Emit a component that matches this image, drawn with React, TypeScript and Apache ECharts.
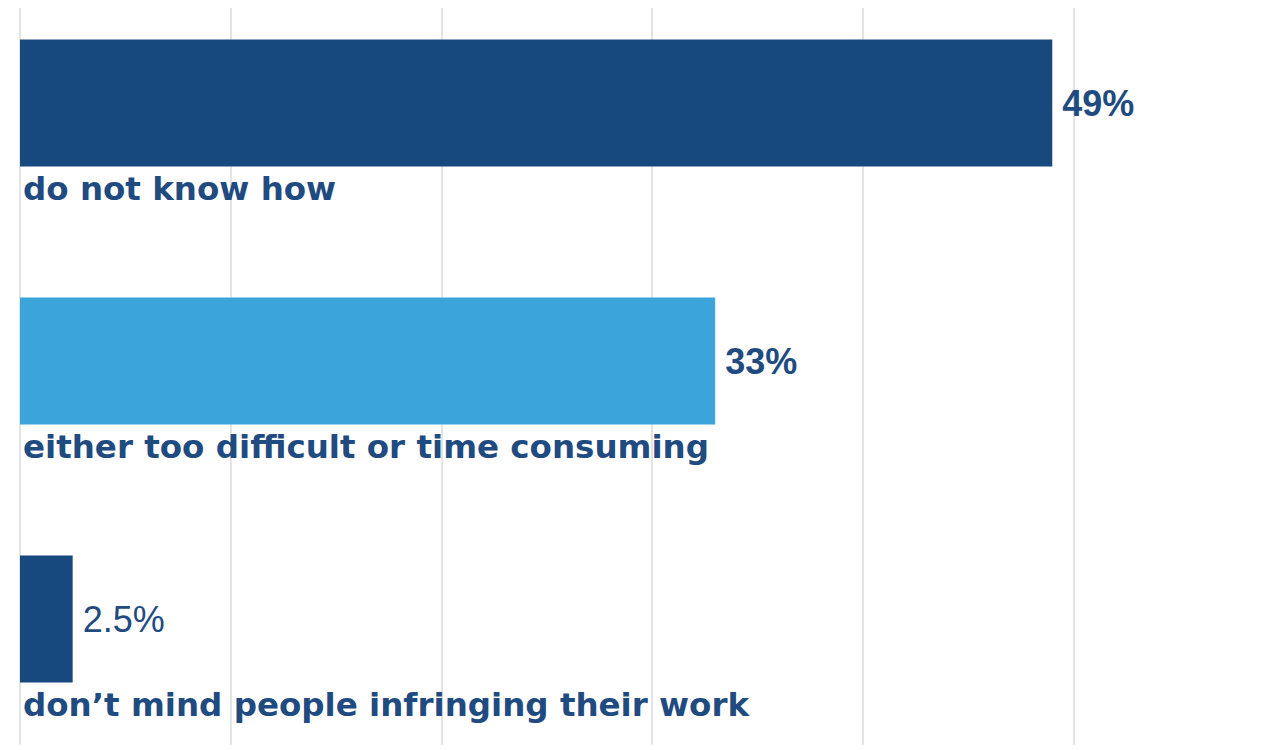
import React, { useEffect, useRef } from "react";
import * as echarts from "echarts";

const categories = [
  "do not know how",
  "either too difficult or time consuming",
  "don\u2019t mind people infringing their work",
];
const values = [49, 33, 2.5];
const valueLabels = ["49%", "33%", "2.5%"];
const barColors = ["#17497f", "#3ba4da", "#17497f"];
const axisMin = 0;
const axisMax = 60;
const axisInterval = 10;

const TEXT_COLOR = "#1f4b80";
const VALUE_FONT = "'Liberation Sans', Arial, sans-serif";
const CAT_FONT = "'DejaVu Sans', sans-serif";

export default function App() {
  const ref = useRef<HTMLDivElement>(null);
  useEffect(() => {
    if (!ref.current) return;
    const chart = echarts.init(ref.current, undefined, { renderer: "svg" });
    chart.setOption({
      animation: false,
      backgroundColor: "#ffffff",
      grid: [
        { left: 20, right: 16, top: 14, bottom: 12 },
        { left: 20, right: 16, top: 48, bottom: 15 },
      ],
      xAxis: [
        {
          gridIndex: 0,
          type: "value",
          min: axisMin,
          max: axisMax,
          interval: axisInterval,
          axisLine: { show: false },
          axisTick: { show: false },
          axisLabel: { show: false },
          splitLine: { show: false },
        },
        {
          gridIndex: 1,
          type: "value",
          min: axisMin,
          max: axisMax,
          interval: axisInterval,
          axisLine: { show: false },
          axisTick: { show: false },
          axisLabel: { show: false },
          splitLine: { show: true, lineStyle: { color: "#e4e4e6", width: 2 } },
        },
      ],
      yAxis: [
        {
          gridIndex: 0,
          type: "category",
          data: categories,
          inverse: true,
          axisLine: { show: false },
          axisTick: { show: false },
          axisLabel: { show: false },
          splitLine: { show: false },
        },
        {
          gridIndex: 1,
          type: "category",
          data: categories,
          inverse: true,
          axisLine: { show: false },
          axisTick: { show: false },
          axisLabel: { show: false },
          splitLine: { show: false },
        },
      ],
      series: [
        {
          type: "scatter",
          xAxisIndex: 1,
          yAxisIndex: 1,
          data: [],
          silent: true,
        },
        {
          type: "bar",
          xAxisIndex: 0,
          yAxisIndex: 0,
          barWidth: 127,
          data: values.map((v, i) => ({
            value: v,
            itemStyle: { color: barColors[i] },
            label: { fontWeight: i === 2 ? "normal" : "bold" },
          })),
          label: {
            show: true,
            position: "right",
            distance: 10,
            formatter: (p: any) => valueLabels[p.dataIndex],
            color: TEXT_COLOR,
            fontFamily: VALUE_FONT,
            fontSize: 36,
          },
          z: 3,
        },
        {
          type: "bar",
          xAxisIndex: 0,
          yAxisIndex: 0,
          barWidth: 127,
          barGap: "-100%",
          data: values,
          itemStyle: { color: "rgba(0,0,0,0)" },
          label: {
            show: true,
            position: [3, 133],
            formatter: "{b}",
            color: TEXT_COLOR,
            fontFamily: CAT_FONT,
            fontWeight: "bold",
            fontSize: 32.5,
          },
          z: 4,
        },
      ],
    });
    return () => chart.dispose();
  }, []);
  return (
    <div
      style={{
        position: "fixed",
        left: 0,
        top: 0,
        width: 1275,
        height: 750,
        overflow: "hidden",
        background: "#ffffff",
      }}
    >
      <div
        ref={ref}
        style={{ position: "absolute", left: 0, top: -40, width: 1300, height: 800 }}
      />
    </div>
  );
}
